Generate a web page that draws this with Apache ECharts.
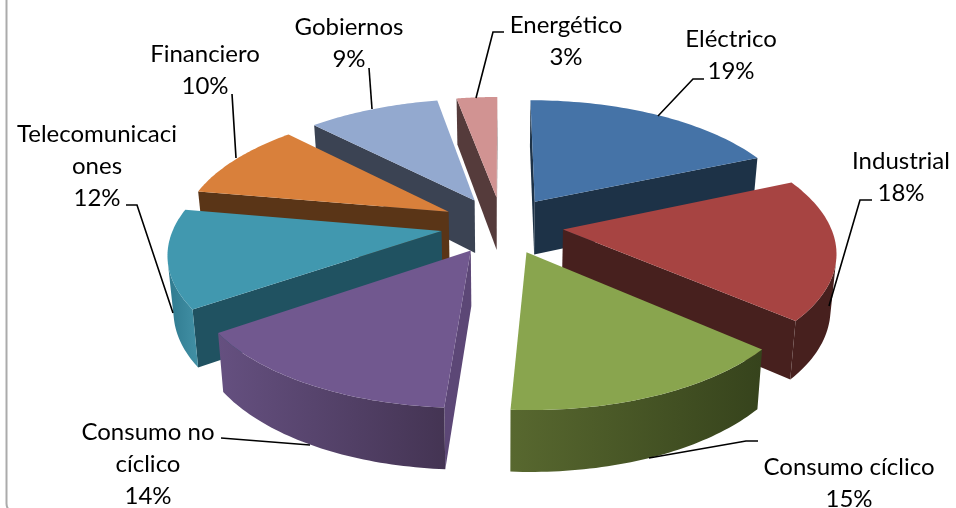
<!DOCTYPE html>
<html>
<head>
<meta charset="utf-8">
<style>html,body{margin:0;padding:0;background:#fff}#c{width:956px;height:508px}</style>
<script src="https://cdn.jsdelivr.net/npm/echarts@6/dist/echarts.min.js"></script>
</head>
<body>
<div id="c"></div>
<script>
// Data (slice sizes estimated from the drawn angles; labels show them rounded)
var categories = ['Eléctrico','Industrial','Consumo cíclico','Consumo no cíclico','Telecomunicaciones','Financiero','Gobiernos','Energético'];
var shares = [18.5,17.9,14.6,14.4,12.4,9.9,9.4,2.9];
var labelLines = [['Eléctrico'],['Industrial'],['Consumo cíclico'],['Consumo no','cíclico'],['Telecomunicaci','ones'],['Financiero'],['Gobiernos'],['Energético']];

// Styling
var topColors  = ['#4573A7','#A74442','#89A54E','#71588F','#4198AF','#D9803B','#93A9CF','#D19392'];
var wallColors = ['#1D3247','#47201E','#36431C','#5C4776','#205261','#5A3517','#3B4353','#553B3B'];
var outerStops = [
  ['#1D3247','#1D3247'],['#47201E','#47201E'],['#58682F','#36431C'],['#655080','#443453'],
  ['#2F7A8F','#4290A5'],['#5A3517','#5A3517'],['#3B4353','#3B4353'],['#553B3B','#553B3B']
];
// Label layout: text centre x, first line centre y, leader polyline
var labelLayout = [
  {x:731,y:39,leader:[[704,79],[693,79],[658,116]]},
  {x:901,y:161,leader:[[872,200],[860,200],[829,306]]},
  {x:849,y:467,leader:[[758,441],[746,441],[649,458]]},
  {x:148,y:432,leader:[[221,438],[310,445]]},
  {x:97,y:134,leader:[[126,205],[137,205],[173,313]]},
  {x:205,y:54,leader:[[232,94],[236,158]]},
  {x:349,y:27,leader:[[369,68],[372,109]]},
  {x:566,y:25,leader:[[504,32],[493,32],[476,98]]}
];
// Projection model
var cx = 502, cy = 225, Rx = 267, Ry = 124, persp = 0.155, explode = 0.23;
var depth = 54, depthPersp = 0.12, shrink = 0.982;

function proj(u, v, low) {
  var s = 1 / (1 - persp * v);
  var x = Rx * u * s, y = cy + Ry * v * s;
  if (low) { x *= shrink; y += depth * (1 + depthPersp * v); }
  return [cx + x, y];
}
function area(q) {
  var a = 0;
  for (var i = 0; i < q.length; i++) {
    var p = q[i], n = q[(i + 1) % q.length];
    a += p[0] * n[1] - n[0] * p[1];
  }
  return a;
}
var total = shares.reduce(function (a, b) { return a + b; }, 0);

function renderSlice(params, api) {
  var i = params.dataIndex;
  var val = api.value(0), before = 0;
  for (var k = 0; k < i; k++) before += shares[k];
  var t0 = before / total * 2 * Math.PI, t1 = (before + val) / total * 2 * Math.PI;
  var mid = (t0 + t1) / 2;
  var ou = explode * Math.sin(mid), ov = -explode * Math.cos(mid);
  function pt(t, low) { return proj(ou + Math.sin(t), ov - Math.cos(t), low); }
  function apex(low) { return proj(ou, ov, low); }
  var n = 48, arcTop = [], arcLow = [], j, t;
  for (j = 0; j <= n; j++) {
    t = t0 + (t1 - t0) * j / n;
    arcTop.push(pt(t, false));
    arcLow.push(pt(t, true));
  }
  var z = Math.round(-Math.cos(mid) * 100) + 200;
  var kids = [];
  var startQ = [apex(false), arcTop[0], arcLow[0], apex(true)];
  var endQ = [apex(false), arcTop[n], arcLow[n], apex(true)];
  if (area(startQ) < 0) kids.push({type:'polygon', z2:z, shape:{points:startQ}, style:{fill:wallColors[i]}});
  if (area(endQ) > 0) kids.push({type:'polygon', z2:z, shape:{points:endQ}, style:{fill:wallColors[i]}});
  // Outer curved wall: only the segments that face the viewer
  var upper = [], lower = [];
  for (j = 0; j < n; j++) {
    var seg = [arcTop[j], arcTop[j + 1], arcLow[j + 1], arcLow[j]];
    if (area(seg) < 0) {
      if (!upper.length) { upper.push(arcTop[j]); lower.push(arcLow[j]); }
      upper.push(arcTop[j + 1]); lower.push(arcLow[j + 1]);
    }
  }
  if (upper.length) {
    kids.push({type:'polygon', z2:z + 1, shape:{points:upper.concat(lower.reverse())},
      style:{fill:new echarts.graphic.LinearGradient(0,0,1,0,[
        {offset:0,color:outerStops[i][0]},{offset:1,color:outerStops[i][1]}])}});
  }
  kids.push({type:'polygon', z2:z + 2, shape:{points:[apex(false)].concat(arcTop)}, style:{fill:topColors[i]}});
  // Label + leader
  var lay = labelLayout[i];
  kids.push({type:'polyline', z2:900, shape:{points:lay.leader}, style:{stroke:'#000',lineWidth:1.6,fill:'none'}});
  kids.push({type:'text', z2:901, style:{
    text: labelLines[i].concat([Math.round(val) + '%']).join('\n'),
    x: lay.x, y: lay.y - 16, align:'center', verticalAlign:'top',
    fontFamily:'Lato', fontSize:24, lineHeight:32, fill:'#000'
  }});
  return {type:'group', children:kids};
}

var chart = echarts.init(document.getElementById('c'), null, {renderer:'canvas'});
chart.setOption({
  animation:false,
  backgroundColor:'#fff',
  graphic:[{type:'rect', left:4, top:-20, shape:{width:980,height:531,r:10},
    style:{fill:'none',stroke:'#ABABAB',lineWidth:2}, silent:true}],
  series:[{
    type:'custom', coordinateSystem:'none', silent:true,
    renderItem:renderSlice,
    data:categories.map(function (c, i) { return {name:c, value:[shares[i]]}; })
  }]
});
</script>
</body>
</html>
